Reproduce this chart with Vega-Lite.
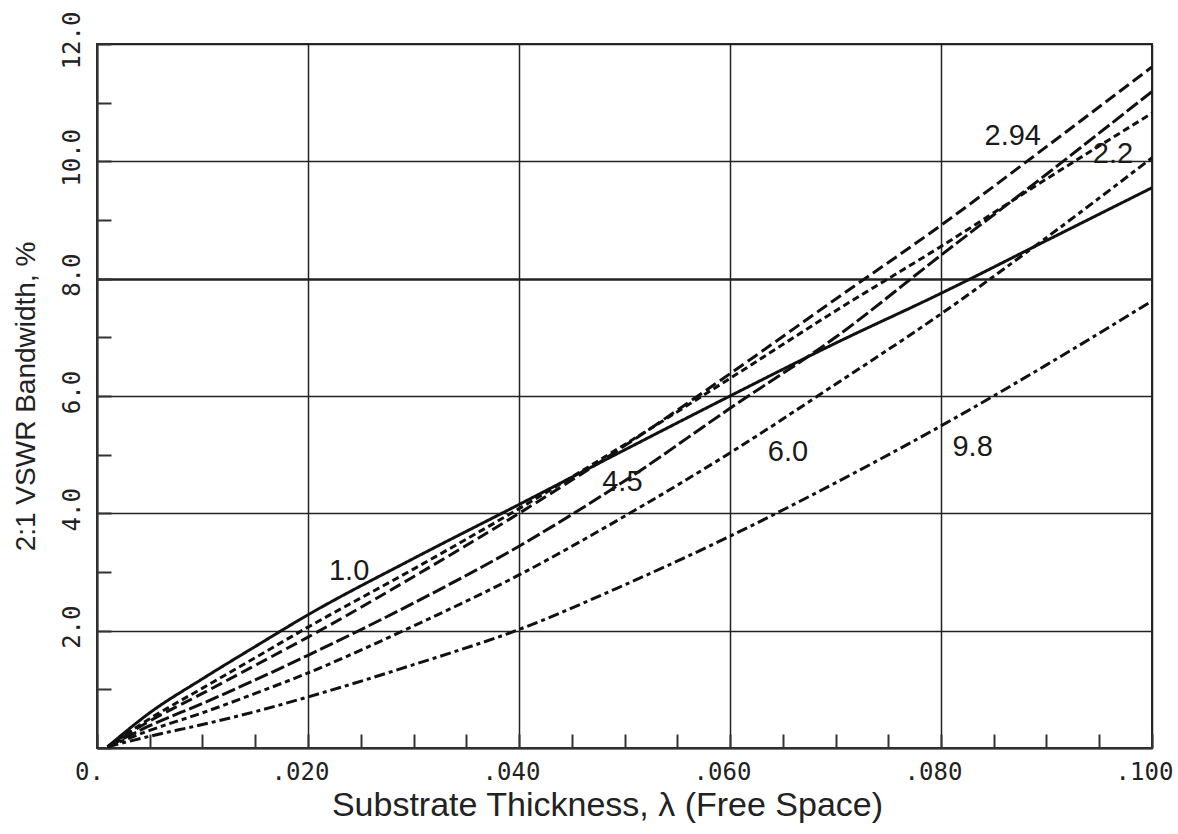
{
  "$schema": "https://vega.github.io/schema/vega-lite/v6.json",
  "width": 1055,
  "height": 704,
  "autosize": {"type": "none"},
  "padding": {"left": 97, "top": 44, "right": 26, "bottom": 86},
  "background": "white",
  "config": {
    "view": {"stroke": "#2a2a2a", "strokeWidth": 2},
    "font": "Liberation Sans"
  },
  "datasets": {
    "curves": [
      {"er": "1.0", "t": 0.001, "bw": 0.02}, {"er": "1.0", "t": 0.005, "bw": 0.6}, {"er": "1.0", "t": 0.01, "bw": 1.18}, {"er": "1.0", "t": 0.015, "bw": 1.73}, {"er": "1.0", "t": 0.02, "bw": 2.27}, {"er": "1.0", "t": 0.03, "bw": 3.23}, {"er": "1.0", "t": 0.04, "bw": 4.15}, {"er": "1.0", "t": 0.05, "bw": 5.08}, {"er": "1.0", "t": 0.06, "bw": 6.0}, {"er": "1.0", "t": 0.07, "bw": 6.9}, {"er": "1.0", "t": 0.08, "bw": 7.75}, {"er": "1.0", "t": 0.09, "bw": 8.65}, {"er": "1.0", "t": 0.1, "bw": 9.55},
      {"er": "2.2", "t": 0.001, "bw": 0.02}, {"er": "2.2", "t": 0.005, "bw": 0.5}, {"er": "2.2", "t": 0.01, "bw": 1.02}, {"er": "2.2", "t": 0.015, "bw": 1.54}, {"er": "2.2", "t": 0.02, "bw": 2.06}, {"er": "2.2", "t": 0.03, "bw": 3.05}, {"er": "2.2", "t": 0.04, "bw": 4.08}, {"er": "2.2", "t": 0.05, "bw": 5.17}, {"er": "2.2", "t": 0.06, "bw": 6.3}, {"er": "2.2", "t": 0.07, "bw": 7.45}, {"er": "2.2", "t": 0.08, "bw": 8.55}, {"er": "2.2", "t": 0.09, "bw": 9.7}, {"er": "2.2", "t": 0.1, "bw": 10.82},
      {"er": "2.94", "t": 0.001, "bw": 0.02}, {"er": "2.94", "t": 0.005, "bw": 0.46}, {"er": "2.94", "t": 0.01, "bw": 0.93}, {"er": "2.94", "t": 0.015, "bw": 1.41}, {"er": "2.94", "t": 0.02, "bw": 1.89}, {"er": "2.94", "t": 0.03, "bw": 2.92}, {"er": "2.94", "t": 0.04, "bw": 4.0}, {"er": "2.94", "t": 0.05, "bw": 5.15}, {"er": "2.94", "t": 0.06, "bw": 6.38}, {"er": "2.94", "t": 0.07, "bw": 7.65}, {"er": "2.94", "t": 0.08, "bw": 8.91}, {"er": "2.94", "t": 0.09, "bw": 10.25}, {"er": "2.94", "t": 0.1, "bw": 11.61},
      {"er": "4.5", "t": 0.001, "bw": 0.02}, {"er": "4.5", "t": 0.005, "bw": 0.38}, {"er": "4.5", "t": 0.01, "bw": 0.76}, {"er": "4.5", "t": 0.015, "bw": 1.16}, {"er": "4.5", "t": 0.02, "bw": 1.58}, {"er": "4.5", "t": 0.03, "bw": 2.47}, {"er": "4.5", "t": 0.04, "bw": 3.44}, {"er": "4.5", "t": 0.05, "bw": 4.55}, {"er": "4.5", "t": 0.06, "bw": 5.79}, {"er": "4.5", "t": 0.07, "bw": 7.0}, {"er": "4.5", "t": 0.08, "bw": 8.4}, {"er": "4.5", "t": 0.09, "bw": 9.78}, {"er": "4.5", "t": 0.1, "bw": 11.19},
      {"er": "6.0", "t": 0.001, "bw": 0.02}, {"er": "6.0", "t": 0.005, "bw": 0.3}, {"er": "6.0", "t": 0.01, "bw": 0.6}, {"er": "6.0", "t": 0.015, "bw": 0.93}, {"er": "6.0", "t": 0.02, "bw": 1.28}, {"er": "6.0", "t": 0.03, "bw": 2.08}, {"er": "6.0", "t": 0.04, "bw": 2.95}, {"er": "6.0", "t": 0.05, "bw": 3.95}, {"er": "6.0", "t": 0.06, "bw": 5.03}, {"er": "6.0", "t": 0.07, "bw": 6.2}, {"er": "6.0", "t": 0.08, "bw": 7.4}, {"er": "6.0", "t": 0.09, "bw": 8.7}, {"er": "6.0", "t": 0.1, "bw": 10.06},
      {"er": "9.8", "t": 0.001, "bw": 0.02}, {"er": "9.8", "t": 0.005, "bw": 0.2}, {"er": "9.8", "t": 0.01, "bw": 0.4}, {"er": "9.8", "t": 0.015, "bw": 0.62}, {"er": "9.8", "t": 0.02, "bw": 0.87}, {"er": "9.8", "t": 0.03, "bw": 1.42}, {"er": "9.8", "t": 0.04, "bw": 2.02}, {"er": "9.8", "t": 0.05, "bw": 2.78}, {"er": "9.8", "t": 0.06, "bw": 3.61}, {"er": "9.8", "t": 0.07, "bw": 4.52}, {"er": "9.8", "t": 0.08, "bw": 5.49}, {"er": "9.8", "t": 0.09, "bw": 6.53}, {"er": "9.8", "t": 0.1, "bw": 7.62}
    ],
    "labels": [
      {"label": "1.0", "t": 0.0239, "bw": 3.02},
      {"label": "4.5", "t": 0.0498, "bw": 4.53},
      {"label": "6.0", "t": 0.0655, "bw": 5.05},
      {"label": "9.8", "t": 0.083, "bw": 5.13},
      {"label": "2.94", "t": 0.0868, "bw": 10.43},
      {"label": "2.2", "t": 0.0963, "bw": 10.12}
    ]
  },
  "layer": [
    {
      "data": {"name": "curves"},
      "mark": {"type": "line", "strokeWidth": 3, "color": "#111111", "clip": true, "interpolate": "monotone"},
      "encoding": {
        "x": {
          "field": "t", "type": "quantitative",
          "scale": {"domain": [0, 0.1], "nice": false, "zero": false},
          "axis": {
            "title": "Substrate Thickness, λ (Free Space)",
            "titleFont": "Liberation Sans", "titleFontSize": 34, "titleFontWeight": "normal", "titleColor": "#222222", "titlePadding": 4,
            "titleX": 510, "titleAlign": "center",
            "values": [0, 0.005, 0.01, 0.015, 0.02, 0.025, 0.03, 0.035, 0.04, 0.045, 0.05, 0.055, 0.06, 0.065, 0.07, 0.075, 0.08, 0.085, 0.09, 0.095, 0.1],
            "labelExpr": "abs(datum.value*50 - round(datum.value*50)) < 0.001 ? (datum.value < 0.0001 ? '0.' : replace(format(datum.value, '.3f'), '0.', '.')) : ''",
            "labelFont": "DejaVu Sans Mono", "labelFontSize": 24, "labelColor": "#222222", "labelPadding": 26, "labelOffset": -8,
            "labelFlush": false, "labelOverlap": false,
            "tickSize": -14, "tickWidth": 2, "tickColor": "#333333",
            "domainColor": "#333333", "domainWidth": 2,
            "grid": true, "gridColor": "#222222", "gridWidth": 1.5,
            "gridOpacity": {"condition": {"test": "abs(datum.value*50 - round(datum.value*50)) < 0.001", "value": 1}, "value": 0}
          }
        },
        "y": {
          "field": "bw", "type": "quantitative",
          "scale": {"domain": [0, 12], "nice": false},
          "axis": {
            "title": "2:1 VSWR Bandwidth, %",
            "titleFont": "Liberation Sans", "titleFontSize": 28, "titleFontWeight": "normal", "titleColor": "#222222", "titlePadding": 20,
            "values": [0, 0.5, 1, 1.5, 2, 2.5, 3, 3.5, 4, 4.5, 5, 5.5, 6, 6.5, 7, 7.5, 8, 8.5, 9, 9.5, 10, 10.5, 11, 11.5, 12],
            "labelExpr": "abs(datum.value/2 - round(datum.value/2)) < 0.001 && datum.value > 0 ? format(datum.value, '.1f') : ''",
            "labelFont": "DejaVu Sans Mono", "labelFontSize": 24, "labelColor": "#222222", "labelPadding": 27, "labelOffset": -4,
            "labelAngle": -90, "labelAlign": "center", "labelBaseline": "bottom",
            "labelFlush": false, "labelOverlap": false,
            "tickSize": -14, "tickWidth": 2, "tickColor": "#333333",
            "domainColor": "#333333", "domainWidth": 2,
            "grid": true, "gridColor": "#222222",
            "gridWidth": {"condition": {"test": "datum.value == 8", "value": 2.6}, "value": 1.5},
            "gridOpacity": {"condition": {"test": "abs(datum.value/2 - round(datum.value/2)) < 0.001", "value": 1}, "value": 0}
          }
        },
        "strokeDash": {
          "field": "er", "type": "nominal",
          "scale": {
            "domain": ["1.0", "2.2", "2.94", "4.5", "6.0", "9.8"],
            "range": [[1, 0], [7, 4], [12, 5], [14, 4], [9, 4, 5, 4], [11, 4, 4, 4]]
          },
          "legend": null
        }
      }
    },
    {
      "data": {"name": "labels"},
      "mark": {"type": "text", "font": "Liberation Sans", "fontSize": 29, "color": "#1a1a1a", "align": "center", "baseline": "middle"},
      "encoding": {
        "x": {"field": "t", "type": "quantitative"},
        "y": {"field": "bw", "type": "quantitative"},
        "text": {"field": "label"}
      }
    }
  ]
}
